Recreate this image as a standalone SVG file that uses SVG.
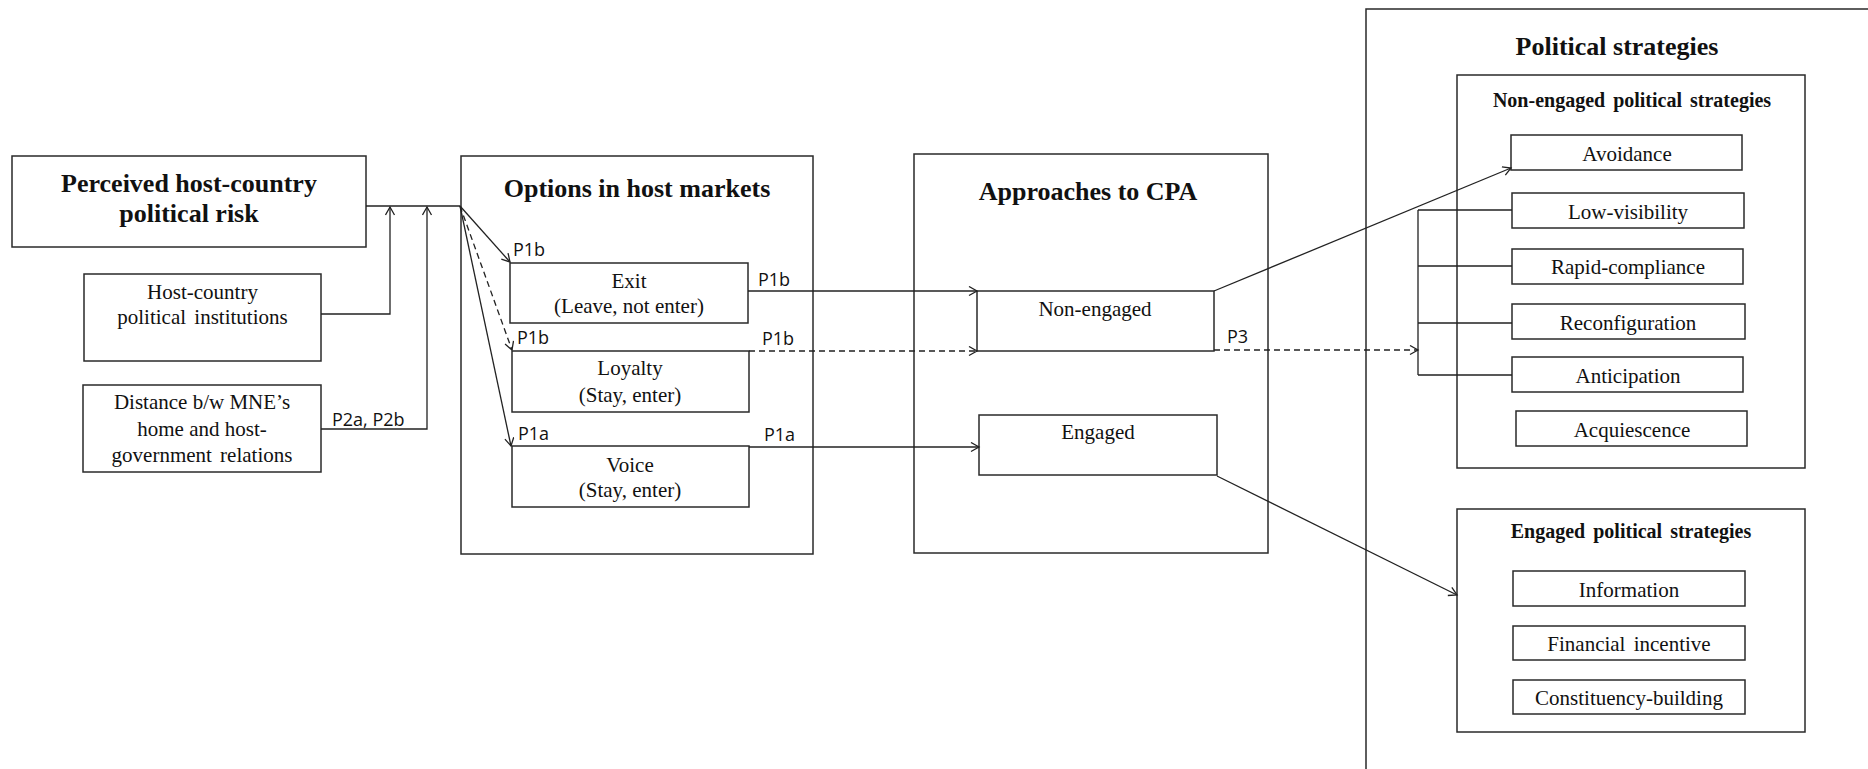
<svg xmlns="http://www.w3.org/2000/svg" width="1868" height="769" viewBox="0 0 1868 769">
<style>
.box{fill:none;stroke:#2a2a2a;stroke-width:1.5}
.t{font-family:"Liberation Serif","Times New Roman",serif;font-size:21px;fill:#111;text-anchor:middle}
.b{font-family:"Liberation Serif","Times New Roman",serif;font-size:26px;font-weight:bold;fill:#111;text-anchor:middle}
.bs{font-family:"Liberation Serif","Times New Roman",serif;font-size:20px;font-weight:bold;fill:#111;text-anchor:middle;word-spacing:3px}
.lab{font-family:"Open Sans","Noto Sans",sans-serif;font-size:18px;fill:#111}
.ln{fill:none;stroke:#222;stroke-width:1.3}
.dash{stroke-dasharray:6,4}
</style>
<defs>
<marker id="arr" markerUnits="userSpaceOnUse" markerWidth="12" markerHeight="12" refX="9" refY="5" orient="auto">
<path d="M1,0.5 L9,5 L1,9.5" fill="none" stroke="#222" stroke-width="1.3"/>
</marker>
</defs>
<rect width="1868" height="769" fill="#fff"/>

<g id="perceived">
<rect class="box" x="12" y="156" width="354" height="91"/>
<text class="b" x="189" y="192">Perceived host-country</text>
<text class="b" x="189" y="222">political risk</text>
</g>
<g id="host-institutions">
<rect class="box" x="84" y="274" width="237" height="87"/>
<text class="t" x="202.5" y="299">Host-country</text>
<text class="t" x="202.5" y="324" word-spacing="3">political institutions</text>
</g>
<g id="distance">
<rect class="box" x="83" y="385" width="238" height="87"/>
<text class="t" x="202" y="409">Distance b/w MNE’s</text>
<text class="t" x="202" y="436">home and host-</text>
<text class="t" x="202" y="462" word-spacing="3">government relations</text>
</g>

<g id="options">
<rect class="box" x="461" y="156" width="352" height="398"/>
<text class="b" x="637" y="197">Options in host markets</text>
</g>
<g id="exit">
<rect class="box" x="510" y="263" width="238" height="60"/>
<text class="t" x="629" y="288">Exit</text>
<text class="t" x="629" y="313">(Leave, not enter)</text>
</g>
<g id="loyalty">
<rect class="box" x="512" y="351" width="237" height="61"/>
<text class="t" x="630" y="375">Loyalty</text>
<text class="t" x="630" y="402">(Stay, enter)</text>
</g>
<g id="voice">
<rect class="box" x="512" y="446" width="237" height="61"/>
<text class="t" x="630" y="472">Voice</text>
<text class="t" x="630" y="497">(Stay, enter)</text>
</g>

<g id="approaches">
<rect class="box" x="914" y="154" width="354" height="399"/>
<text class="b" x="1088" y="200">Approaches to CPA</text>
</g>
<g id="non-engaged">
<rect class="box" x="977" y="291" width="237" height="60"/>
<text class="t" x="1095" y="316">Non-engaged</text>
</g>
<g id="engaged">
<rect class="box" x="979" y="415" width="238" height="60"/>
<text class="t" x="1098" y="439">Engaged</text>
</g>

<g id="political-strategies">
<rect class="box" x="1366" y="9" width="600" height="800"/>
<text class="b" x="1617" y="55">Political strategies</text>
</g>
<g id="non-engaged-strategies">
<rect class="box" x="1457" y="75" width="348" height="393"/>
<text class="bs" x="1632" y="107">Non-engaged political strategies</text>
</g>
<g id="avoidance">
<rect class="box" x="1511" y="135" width="231" height="35"/>
<text class="t" x="1627" y="161">Avoidance</text>
</g>
<g id="low-visibility">
<rect class="box" x="1512" y="193" width="232" height="35"/>
<text class="t" x="1628" y="219">Low-visibility</text>
</g>
<g id="rapid-compliance">
<rect class="box" x="1512" y="249" width="231" height="35"/>
<text class="t" x="1628" y="274">Rapid-compliance</text>
</g>
<g id="reconfiguration">
<rect class="box" x="1512" y="304" width="233" height="35"/>
<text class="t" x="1628" y="330">Reconfiguration</text>
</g>
<g id="anticipation">
<rect class="box" x="1512" y="357" width="231" height="35"/>
<text class="t" x="1628" y="383">Anticipation</text>
</g>
<g id="acquiescence">
<rect class="box" x="1516" y="411" width="231" height="35"/>
<text class="t" x="1632" y="437">Acquiescence</text>
</g>
<g id="engaged-strategies">
<rect class="box" x="1457" y="509" width="348" height="223"/>
<text class="bs" x="1631" y="538">Engaged political strategies</text>
</g>
<g id="information">
<rect class="box" x="1513" y="571" width="232" height="35"/>
<text class="t" x="1629" y="597">Information</text>
</g>
<g id="financial-incentive">
<rect class="box" x="1513" y="626" width="232" height="34"/>
<text class="t" x="1629" y="651" word-spacing="3">Financial incentive</text>
</g>
<g id="constituency-building">
<rect class="box" x="1513" y="680" width="232" height="34"/>
<text class="t" x="1629" y="705">Constituency-building</text>
</g>

<g id="connectors">
<path class="ln" d="M366,206 H460"/>
<path class="ln" d="M321,314 H390 V207" marker-end="url(#arr)"/>
<path class="ln" d="M321,429 H427 V207" marker-end="url(#arr)"/>
<path class="ln" d="M460,206 L510,262" marker-end="url(#arr)"/>
<path class="ln dash" d="M460,206 L512,350" marker-end="url(#arr)"/>
<path class="ln" d="M460,206 L511,446" marker-end="url(#arr)"/>
<path class="ln" d="M748,291 H977" marker-end="url(#arr)"/>
<path class="ln dash" d="M749,351 H977" marker-end="url(#arr)"/>
<path class="ln" d="M749,447 H979" marker-end="url(#arr)"/>
<path class="ln" d="M1214,291 L1511,168" marker-end="url(#arr)"/>
<path class="ln dash" d="M1214,350 H1418" marker-end="url(#arr)"/>
<path class="ln" d="M1217,476 L1457,595" marker-end="url(#arr)"/>
<path class="ln" d="M1418,210 V375 M1418,210 H1512 M1418,266 H1512 M1418,323 H1512 M1418,375 H1512"/>
<text class="lab" x="332" y="426">P2a, P2b</text>
<text class="lab" x="513" y="256">P1b</text>
<text class="lab" x="517" y="344">P1b</text>
<text class="lab" x="518" y="440">P1a</text>
<text class="lab" x="758" y="286">P1b</text>
<text class="lab" x="762" y="345">P1b</text>
<text class="lab" x="764" y="441">P1a</text>
<text class="lab" x="1227" y="343">P3</text>
</g>
</svg>
